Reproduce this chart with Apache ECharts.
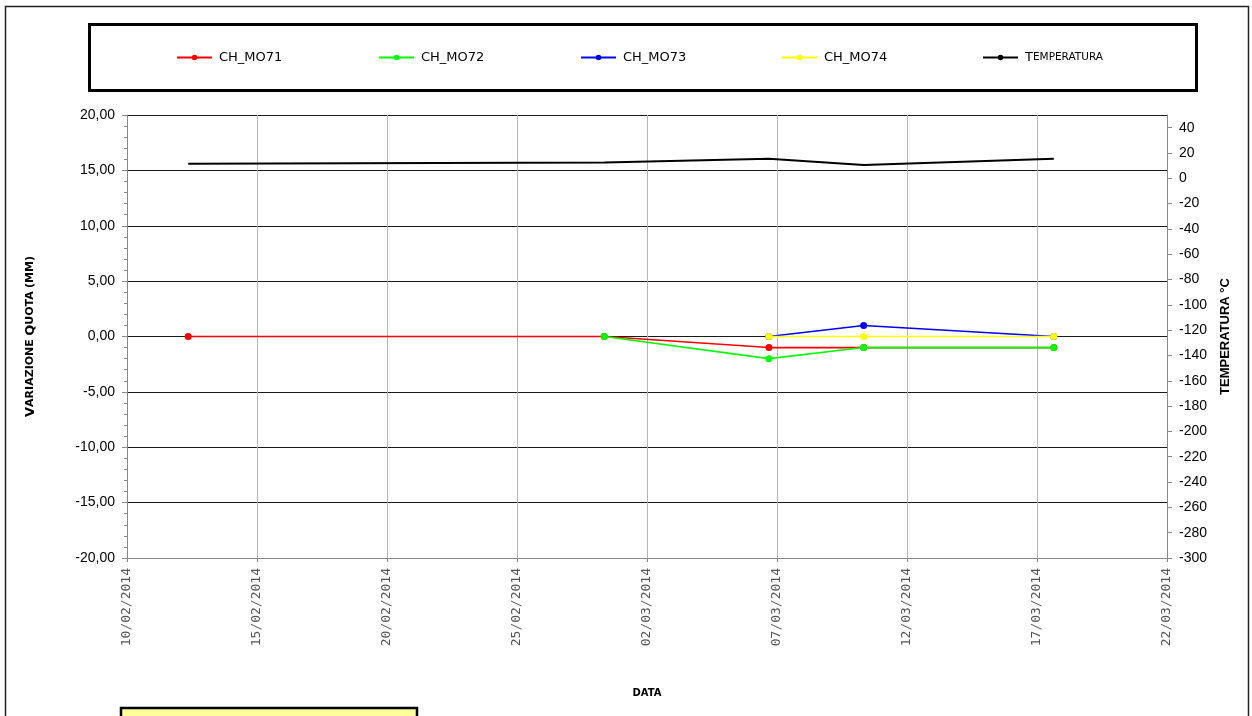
<!DOCTYPE html>
<html>
<head>
<meta charset="utf-8">
<script src="https://cdn.jsdelivr.net/npm/echarts@6/dist/echarts.min.js"></script>
<style>
html,body{margin:0;padding:0;background:#fff;}
#chart{width:1252px;height:716px;}
</style>
</head>
<body>
<div id="chart"></div>
<script>
// ---- data ----
const dates = ["2014-02-12T08:30Z", "2014-02-28T08:30Z", "2014-03-06T16:30Z", "2014-03-10T08:00Z", "2014-03-17T15:30Z"];
const ch_mo71 = [0, 0, -1, -1, -1];
const ch_mo72 = [null, 0, -2, -1, -1];
const ch_mo73 = [null, null, 0, 1, 0];
const ch_mo74 = [null, null, 0, 0, 0];
const temperatura = [11.5, 12.5, 15.5, 10.5, 15.5];
const seriesNames = ["CH_MO71", "CH_MO72", "CH_MO73", "CH_MO74", "Temperatura"];
const axisStartDate = "2014-02-10T00:00Z";
const axisEndDate = "2014-03-22T00:00Z";
const dayStep = 5;
const leftTicks = [-20, 20, 5];
const rightTicks = [-300, 50, 20];

const DAY = 86400000;
const base = Date.parse(axisStartDate);
const toDay = s => (Date.parse(s) - base) / DAY;
const pairs = vals => dates.map((d, i) => [toDay(d), vals[i]]).filter(p => p[1] !== null);
const pad = n => (n < 10 ? '0' : '') + n;
const fmtDate = v => { const d = new Date(base + v * DAY); return pad(d.getUTCDate()) + '/' + pad(d.getUTCMonth() + 1) + '/' + d.getUTCFullYear(); };

const colors = ['#ff0000', '#00ff00', '#0000ff', '#ffff00', '#000000'];
const values = [ch_mo71, ch_mo72, ch_mo73, ch_mo74, temperatura];

const legendLefts = [176, 378, 580, 781, 982];
const legends = seriesNames.map((n, i) => ({
  data: [n], left: legendLefts[i], top: 51, padding: 0,
  itemWidth: 35, itemHeight: 7, selectedMode: false,
  formatter: n === 'Temperatura' ? '{a|T}{b|EMPERATURA}' : '{c|' + n + '}',
  textStyle: {
    color: '#000', padding: [0, 0, 0, 2],
    rich: {
      a: { fontFamily: 'DejaVu Sans', fontSize: 13, color: '#000' },
      b: { fontFamily: 'DejaVu Sans', fontSize: 10.5, color: '#000' },
      c: { fontFamily: 'DejaVu Sans', fontSize: 13, color: '#000' }
    }
  }
}));

const chart = echarts.init(document.getElementById('chart'), null, { renderer: 'canvas' });
chart.setOption({
  animation: false,
  backgroundColor: '#fff',
  graphic: [
    { type: 'rect', shape: { x: 5.5, y: 6.5, width: 1243, height: 730 }, style: { fill: 'none', stroke: '#222', lineWidth: 1.5 }, z: 0 },
    { type: 'rect', shape: { x: 89.5, y: 24.5, width: 1107, height: 66 }, style: { fill: 'none', stroke: '#000', lineWidth: 3 }, z: 0 },
    { type: 'rect', shape: { x: 121, y: 708, width: 296, height: 30 }, style: { fill: '#ffff99', stroke: '#000', lineWidth: 2.5 }, z: 0 }
  ],
  legend: legends,
  grid: { left: 127, right: 85, top: 115, bottom: 158, show: false },
  xAxis: {
    type: 'value',
    min: toDay(axisStartDate), max: toDay(axisEndDate), interval: dayStep,
    name: 'DATA', nameLocation: 'middle', nameGap: 130,
    nameTextStyle: { fontFamily: 'DejaVu Sans', fontWeight: 'bold', fontSize: 10, color: '#000' },
    axisLine: { show: true, onZero: false, lineStyle: { color: '#888', width: 1 } },
    axisTick: { show: true, length: 4, lineStyle: { color: '#888' } },
    axisLabel: { rotate: 90, margin: 10, formatter: fmtDate, fontFamily: 'DejaVu Sans Mono', fontSize: 13, color: '#555' },
    splitLine: { show: true, lineStyle: { color: '#b5b5b5', width: 1 } }
  },
  yAxis: [
    {
      type: 'value', min: leftTicks[0], max: leftTicks[1], interval: leftTicks[2],
      name: '{a|V}{b|ARIAZIONE} {a|Q}{b|UOTA} {b|(MM)}', nameLocation: 'middle', nameGap: 90, nameRotate: 90,
      nameTextStyle: {
        rich: {
          a: { fontFamily: 'DejaVu Sans', fontWeight: 'bold', fontSize: 13, color: '#000' },
          b: { fontFamily: 'DejaVu Sans', fontWeight: 'bold', fontSize: 11, color: '#000' }
        }
      },
      axisLine: { show: true, onZero: false, lineStyle: { color: '#888' } },
      axisTick: { show: true, length: 5, lineStyle: { color: '#888' } },
      minorTick: { show: true, splitNumber: 5, length: 3, lineStyle: { color: '#888' } },
      axisLabel: { margin: 12, fontFamily: 'Liberation Sans', fontSize: 14, color: '#000', formatter: v => v.toFixed(2).replace('.', ',') },
      splitLine: { show: true, lineStyle: { color: '#1a1a1a', width: 1 } }
    },
    {
      type: 'value', min: rightTicks[0], max: rightTicks[1], interval: rightTicks[2], position: 'right',
      name: 'TEMPERATURA °C', nameLocation: 'middle', nameGap: 52, nameRotate: 90,
      nameTextStyle: { fontFamily: 'Liberation Sans', fontWeight: 'bold', fontSize: 13, color: '#000' },
      axisLine: { show: true, onZero: false, lineStyle: { color: '#888' } },
      axisTick: { show: true, length: 5, lineStyle: { color: '#888' } },
      axisLabel: { margin: 12, fontFamily: 'Liberation Sans', fontSize: 14, color: '#000', showMaxLabel: false },
      splitLine: { show: false }
    }
  ],
  series: seriesNames.map((n, i) => ({
    name: n, type: 'line', yAxisIndex: i === 4 ? 1 : 0,
    data: pairs(values[i]),
    symbol: i === 4 ? 'none' : 'circle', symbolSize: 7, showSymbol: i !== 4,
    lineStyle: { color: colors[i], width: i === 4 ? 2 : 1.6 },
    itemStyle: { color: colors[i], borderWidth: 0 },
    z: 3 + i
  }))
});
</script>
</body>
</html>
